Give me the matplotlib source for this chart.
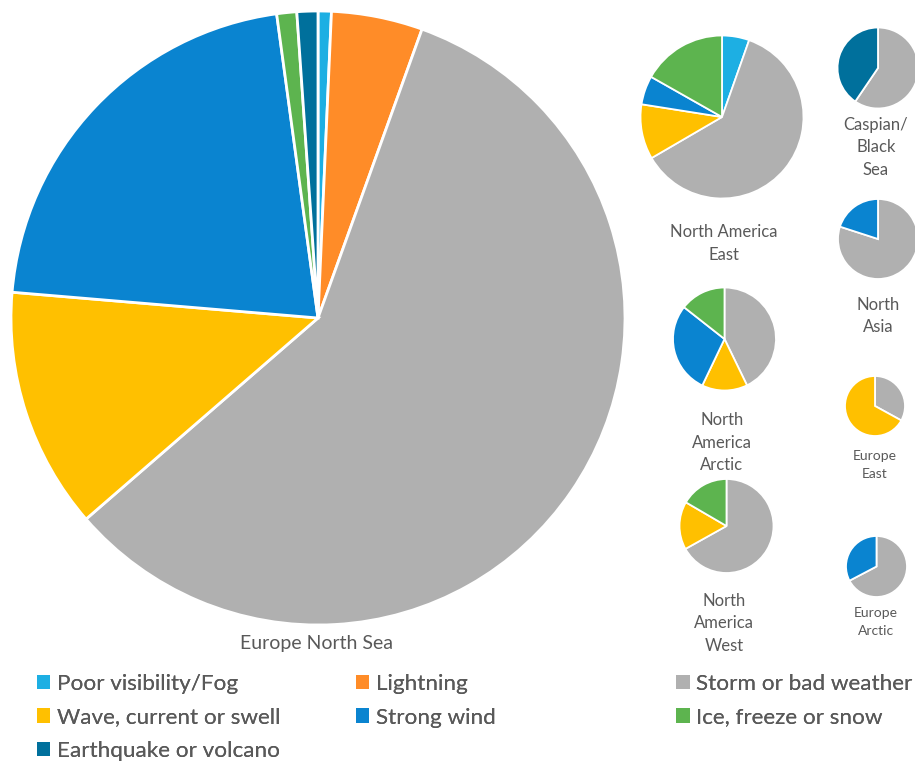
import matplotlib.pyplot as plt
from matplotlib.patches import Patch

plt.rcParams['font.family'] = ['Lato', 'DejaVu Sans']

causes = ['Poor visibility/Fog', 'Lightning', 'Storm or bad weather',
          'Wave, current or swell', 'Strong wind', 'Ice, freeze or snow',
          'Earthquake or volcano']
colors = ['#1DAFE3', '#FF8C28', '#B0B0B0', '#FFC000', '#0A84D0', '#5DB44F', '#00709C']

# shares in percent, same order as causes (0 = not present)
europe_north_sea = [0.7, 4.8, 58.1, 12.7, 21.5, 1.05, 1.1]
na_east = [5.4, 0, 61.2, 10.9, 5.7, 16.8, 0]
caspian = [0, 0, 59.5, 0, 0, 0, 40.5]
north_asia = [0, 0, 80, 0, 20, 0, 0]
na_arctic = [0, 0, 42.8, 14.3, 28.5, 14.4, 0]
europe_east = [0, 0, 33, 67, 0, 0, 0]
na_west = [0, 0, 66.9, 16.5, 0, 16.6, 0]
europe_arctic = [0, 0, 67.3, 0, 32.7, 0, 0]

regions = ['Europe North Sea', 'North America\nEast', 'Caspian/\nBlack\nSea',
           'North\nAsia', 'North\nAmerica\nArctic', 'Europe\nEast',
           'North\nAmerica\nWest', 'Europe\nArctic']
region_data = [europe_north_sea, na_east, caspian, north_asia, na_arctic,
               europe_east, na_west, europe_arctic]

# layout in pixels: pie centre x, y, radius, label x, label top y, font size, line spacing
layout = [
    (318, 318, 307, 316, 635, 14, 1.3),
    (722, 117, 81.5, 724, 224, 12, 1.5),
    (878, 68, 40.5, 876, 117, 12, 1.5),
    (878, 239, 40, 878, 297, 12, 1.5),
    (724.5, 339, 51.5, 722, 412, 12, 1.5),
    (875, 406, 30, 875, 450, 10, 1.6),
    (726.5, 526, 47, 724, 593, 12, 1.5),
    (876.5, 566.5, 30.5, 876, 607, 10, 1.6),
]

W, H = 915, 761
fig = plt.figure(figsize=(W / 100, H / 100), dpi=100)
ax = fig.add_axes([0, 0, 1, 1])

for name, vals, (cx, cy, r, lx, ly, fs, ls) in zip(regions, region_data, layout):
    v = [x for x in vals if x > 0]
    c = [col for x, col in zip(vals, colors) if x > 0]
    lw = 2 if r > 100 else 1.3
    ax.pie(v, colors=c, center=(cx, H - cy), radius=r, startangle=90,
           counterclock=False, wedgeprops=dict(edgecolor='white', linewidth=lw))
    ax.text(lx, H - ly, name, ha='center', va='top', fontsize=fs,
            color='#595959', linespacing=ls)

ax.set_xlim(0, W)
ax.set_ylim(0, H)
ax.set_aspect('equal')
ax.axis('off')

handles = [Patch(facecolor=c, edgecolor='none') for c in colors]
columns = [([0, 3, 6], 0.040), ([1, 4], 0.389), ([2, 5], 0.739)]
for idx, x0 in columns:
    leg = fig.legend([handles[i] for i in idx], [causes[i] for i in idx],
                     loc='upper left', bbox_to_anchor=(x0, 1 - 674 / H),
                     frameon=False, fontsize=16.2, handlelength=0.6,
                     handleheight=0.6, handletextpad=0.3,
                     labelspacing=0.6, borderaxespad=0, borderpad=0,
                     labelcolor='#595959')
    fig.add_artist(leg)

fig.savefig('out.png', dpi=100)
